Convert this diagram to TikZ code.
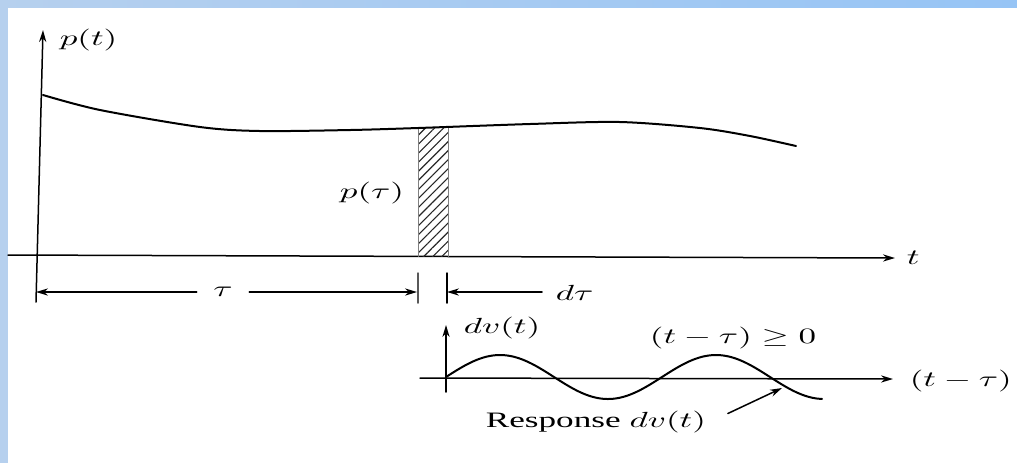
\documentclass[tikz,border=0pt]{standalone}
\usepackage{fontspec}
\setmainfont{Liberation Serif}
\usetikzlibrary{arrows.meta,patterns.meta}
\definecolor{bgleft}{RGB}{182,208,238}
\definecolor{bgright}{RGB}{150,196,245}
\tikzset{
  ax/.style={line width=0.75pt},
  lbl/.style={font=\fontsize{11}{13}\selectfont,xscale=1.6,transform shape,inner sep=1pt},
}
\begin{document}
\begin{tikzpicture}[x=0.5pt,y=-0.5pt,>={Stealth[length=6pt,width=3.6pt]},line cap=round,line join=round]
\useasboundingbox (0,0) rectangle (1017,463);
\shade[left color=bgleft,right color=bgright] (0,0) rectangle (1017,7);
\fill[bgleft] (0,0) rectangle (8,463);
% upper plot
\coordinate (pbot) at (36,302);
\coordinate (ptop) at (43,30);
\coordinate (tl) at (8,255);
\coordinate (tr) at (895,258);
\draw[ax,->] (pbot) -- (ptop);
\draw[ax,->] (tl) -- (tr);
\node[lbl,anchor=west] (plab) at (56,40) {$p(t)$};
\node[lbl,anchor=west] (tlab) at (903,258) {$t$};
\fill[pattern={Lines[angle=45,distance=3.2pt,line width=0.55pt]},pattern color=black!85] (418,128) rectangle (448,256.5);
\draw[line width=0.4pt,gray] (418,128) -- (418,256.5) (448,128) -- (448,256.5);
\draw[line width=1pt] plot[smooth] coordinates {(43,95) (100,110) (200,127) (260,131) (350,130) (418,128) (530,124) (620,122) (700,128) (750,136) (796,146)};
\node[lbl] (ptau) at (372,193) {$p(\tau)$};
% widths
\coordinate (dimL) at (36,292);
\coordinate (dimA) at (417,292);
\coordinate (dimB) at (447,292);
\coordinate (dimC) at (542,292);
\draw[ax,gray!70!black] (418,273) -- (418,303);
\draw[ax] (447,273) -- (447,303);
\node[lbl,inner xsep=5pt] (taulab) at (223,292) {$\tau$};
\draw[ax,<-] (dimL) -- (taulab.west);
\draw[ax,->] (taulab.east) -- (dimA);
\draw[ax,<-] (dimB) -- (dimC);
\node[lbl,anchor=west] (dtau) at (552,293) {$d\tau$};
% response
\coordinate (vbot) at (446,392);
\coordinate (vtop) at (446,325);
\coordinate (hl) at (420,378);
\coordinate (hr) at (893,379);
\draw[ax,->] (vbot) -- (vtop);
\draw[ax,->] (hl) -- (hr);
\node[lbl,anchor=west] (dvlab) at (460,328) {$dv(t)$};
\node[lbl,anchor=west] (ttau) at (906,381) {$(t-\tau)$};
\node[lbl] (cond) at (733,338) {$(t-\tau)\geq 0$};
\draw[line width=1pt,domain=0:376,samples=80,smooth] plot ({446+\x},{377-22*sin(\x/216*360)});
\node[lbl,anchor=west] (resp) at (482,422) {Response $dv(t)$};
\coordinate (rtip) at (782,388);
\draw[ax,->,shorten <=10pt] (resp.east) -- (rtip);
\end{tikzpicture}
\end{document}
